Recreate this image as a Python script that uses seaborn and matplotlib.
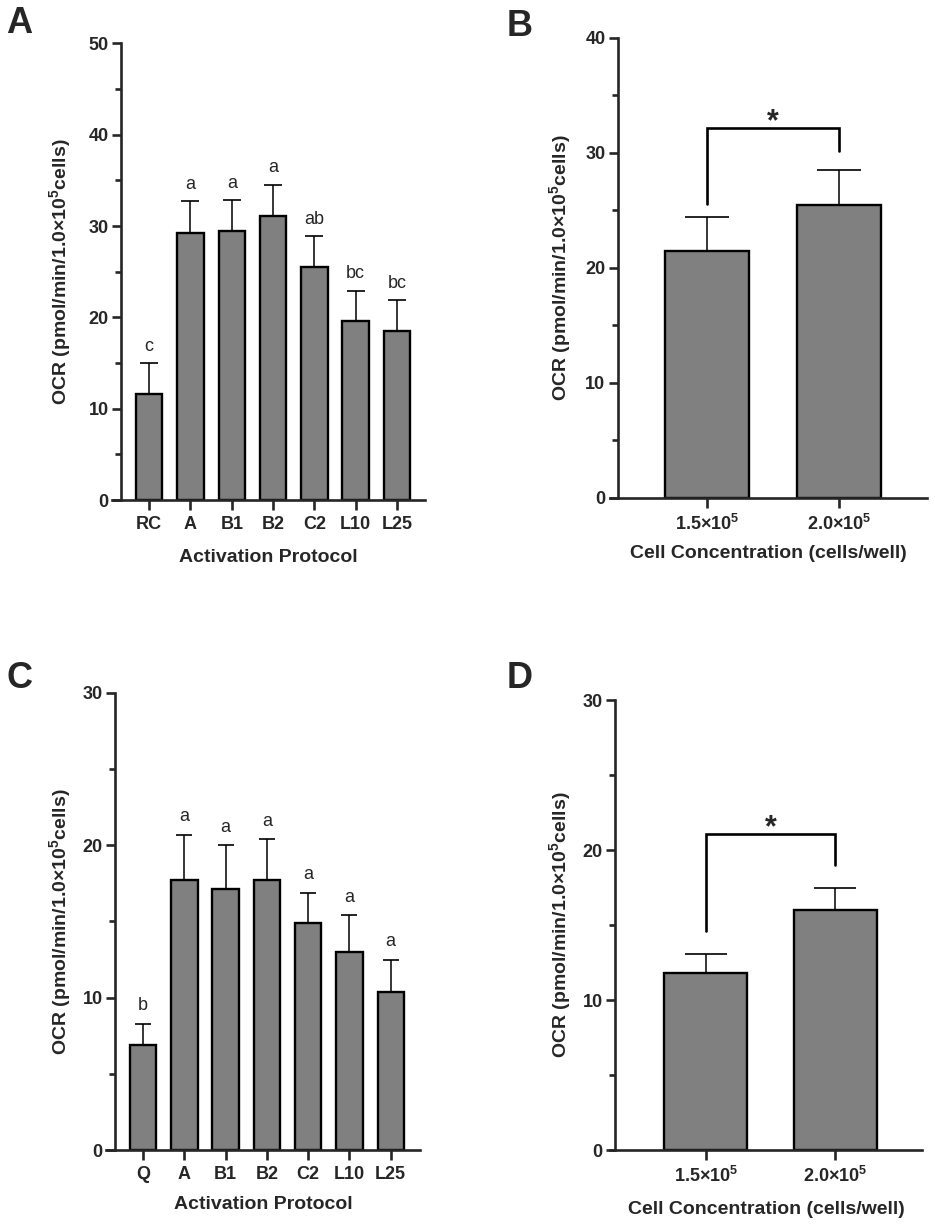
import numpy as np
import pandas as pd
import matplotlib
matplotlib.use("Agg")
import matplotlib.pyplot as plt
import seaborn as sns
from matplotlib.ticker import MultipleLocator

sns.set_style("ticks")
plt.rcParams["font.family"] = ["Liberation Sans", "DejaVu Sans"]
plt.rcParams["mathtext.fontset"] = "custom"
plt.rcParams["mathtext.rm"] = "Liberation Sans"
plt.rcParams["mathtext.bf"] = "Liberation Sans:bold"

# Panel A - activation protocols (first experiment)
protocols_a = ["RC", "A", "B1", "B2", "C2", "L10", "L25"]
ocr_a = [11.6, 29.2, 29.5, 31.1, 25.5, 19.6, 18.5]
sd_a = [3.4, 3.5, 3.3, 3.4, 3.4, 3.3, 3.4]
letters_a = ["c", "a", "a", "a", "ab", "bc", "bc"]

# Panel B - cell concentration
conc_labels = ["1.5×10$^{\\mathbf{5}}$", "2.0×10$^{\\mathbf{5}}$"]
ocr_b = [21.5, 25.5]
sd_b = [2.9, 3.0]
bracket_b = 32.2
legs_b = [25.6, 30.2]

# Panel C - activation protocols (second experiment)
protocols_c = ["Q", "A", "B1", "B2", "C2", "L10", "L25"]
ocr_c = [6.9, 17.7, 17.1, 17.7, 14.9, 13.0, 10.4]
sd_c = [1.4, 3.0, 2.9, 2.7, 2.0, 2.4, 2.1]
letters_c = ["b", "a", "a", "a", "a", "a", "a"]

# Panel D - cell concentration
ocr_d = [11.8, 16.0]
sd_d = [1.3, 1.5]
bracket_d = 21.1
legs_d = [14.6, 19.0]

ylab = "OCR (pmol/min/1.0×10$^{\\mathbf{5}}$cells)"
BAR = "#808080"


def draw_panel(ax, cats, vals, errs, ymax, xlim, spine_x, capsize, xlabel,
               ylab_x, xlab_y):
    n = len(cats)
    df = pd.DataFrame({"group": cats, "ocr": vals})
    sns.barplot(data=df, x="group", y="ocr", color=BAR, saturation=1,
                edgecolor="black", linewidth=1.7, width=0.64, errorbar=None, ax=ax)
    ax.errorbar(np.arange(n), vals, yerr=[np.zeros(n), errs], fmt="none",
                ecolor="black", elinewidth=1.1, capsize=capsize, capthick=1.2,
                zorder=3)
    ax.set_xlim(*xlim)
    ax.set_ylim(0, ymax)
    sns.despine(ax=ax)
    ax.spines["left"].set_position(("data", spine_x))
    for s in ["left", "bottom"]:
        ax.spines[s].set_linewidth(1.9)
    ax.yaxis.set_major_locator(MultipleLocator(10))
    ax.yaxis.set_minor_locator(MultipleLocator(5))
    ax.tick_params(axis="y", which="major", length=6.5, width=1.9, pad=2.5,
                   labelsize=13)
    ax.tick_params(axis="y", which="minor", length=4, width=1.9)
    ax.tick_params(axis="x", length=7, width=1.9, pad=4.5, labelsize=13)
    for t in ax.get_xticklabels() + ax.get_yticklabels():
        t.set_fontweight("bold")
    ax.set_xlabel(xlabel, fontsize=14, fontweight="bold", va="center")
    ax.set_ylabel(ylab, fontsize=14, fontweight="bold", va="center", ha="center")
    ax.xaxis.set_label_coords(0.5, xlab_y)
    ax.yaxis.set_label_coords(ylab_x, 0.5)


def add_letters(ax, vals, errs, letters, off):
    for i, (v, e, lt) in enumerate(zip(vals, errs, letters)):
        ax.annotate(lt, (i, v + e), xytext=(0, off), textcoords="offset points",
                    ha="center", va="baseline", fontsize=13)


def add_bracket(ax, y, legs):
    ax.plot([0, 0, 1, 1], [legs[0], y, y, legs[1]], color="black", lw=1.9,
            solid_joinstyle="miter")
    ax.annotate("*", (0.5, y), xytext=(0, -2), textcoords="offset points",
                ha="center", va="baseline", fontsize=22, fontweight="bold")


fig = plt.figure(figsize=(9.35, 12.28), dpi=100)

ax_a = fig.add_axes([0.1198, 0.5928, 0.3348, 0.3719])
draw_panel(ax_a, protocols_a, ocr_a, sd_a, 50, (-0.90, 6.68), -0.68, 6.4,
           "Activation Protocol", -0.163, -0.125)
add_letters(ax_a, ocr_a, sd_a, letters_a, 9)

ax_b = fig.add_axes([0.6524, 0.5945, 0.3390, 0.3746])
draw_panel(ax_b, conc_labels, ocr_b, sd_b, 40, (-0.74, 1.67), -0.68, 15.6,
           "Cell Concentration (cells/well)", -0.155, -0.12)
add_bracket(ax_b, bracket_b, legs_b)

ax_c = fig.add_axes([0.1134, 0.0635, 0.3358, 0.3722])
draw_panel(ax_c, protocols_c, ocr_c, sd_c, 30, (-0.90, 6.71), -0.68, 6.0,
           "Activation Protocol", -0.143, -0.12)
add_letters(ax_c, ocr_c, sd_c, letters_c, 9.5)

ax_d = fig.add_axes([0.6524, 0.0635, 0.3337, 0.3664])
draw_panel(ax_d, conc_labels, ocr_d, sd_d, 30, (-0.74, 1.67), -0.70, 15.4,
           "Cell Concentration (cells/well)", -0.157, -0.133)
add_bracket(ax_d, bracket_d, legs_d)

for lbl, x, y in [("A", 6, 33), ("B", 507, 36), ("C", 6, 688), ("D", 507, 688)]:
    fig.text(x / 935, 1 - y / 1228, lbl, fontsize=26, fontweight="bold",
             ha="left", va="baseline")

fig.savefig("out.png", dpi=100)
